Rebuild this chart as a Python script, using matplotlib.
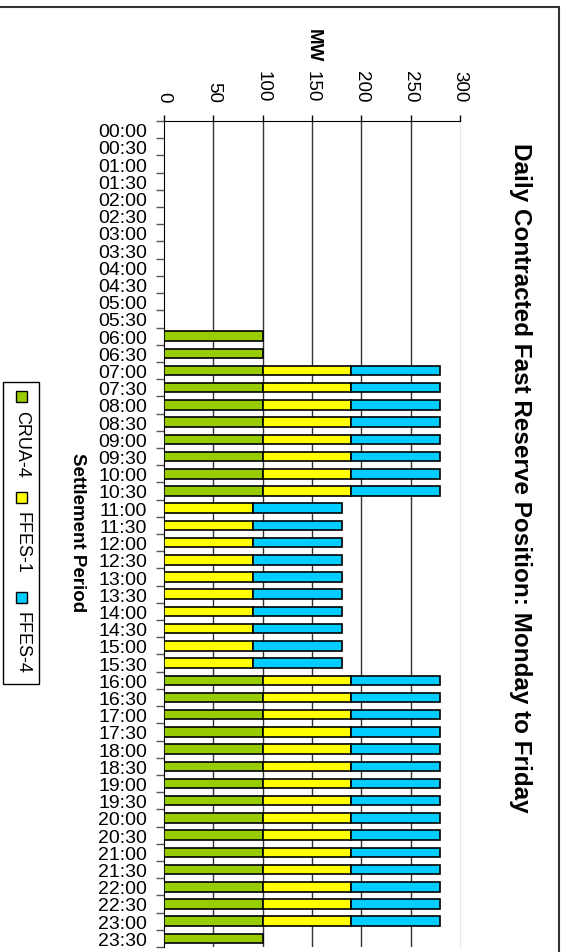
import numpy as np
import matplotlib
matplotlib.use("Agg")
import matplotlib.pyplot as plt
from matplotlib.patches import Rectangle

# ---------------------
# DATA
# ---------------------
PERIODS = [f"{h:02d}:{m:02d}" for h in range(24) for m in (0, 30)]

CRUA_4 = [
    0, 0, 0, 0, 0, 0, 0, 0, 0, 0, 0, 0,
    100, 100, 100, 100, 100, 100, 100, 100, 100, 100, 0, 0,
    0, 0, 0, 0, 0, 0, 0, 0, 100, 100, 100, 100,
    100, 100, 100, 100, 100, 100, 100, 100, 100, 100, 100, 100,
]
FFES_1 = [
    0, 0, 0, 0, 0, 0, 0, 0, 0, 0, 0, 0,
    0, 0, 90, 90, 90, 90, 90, 90, 90, 90, 90, 90,
    90, 90, 90, 90, 90, 90, 90, 90, 90, 90, 90, 90,
    90, 90, 90, 90, 90, 90, 90, 90, 90, 90, 90, 0,
]
FFES_4 = [
    0, 0, 0, 0, 0, 0, 0, 0, 0, 0, 0, 0,
    0, 0, 90, 90, 90, 90, 90, 90, 90, 90, 90, 90,
    90, 90, 90, 90, 90, 90, 90, 90, 90, 90, 90, 90,
    90, 90, 90, 90, 90, 90, 90, 90, 90, 90, 90, 0,
]

SERIES = ["CRUA-4", "FFES-1", "FFES-4"]
VALUES = [CRUA_4, FFES_1, FFES_4]
COLORS = ["#99cc00", "#ffff00", "#00ccff"]
MW_TICKS = [0, 50, 100, 150, 200, 250, 300]

TITLE = "Daily Contracted Fast Reserve Position: Monday to Friday"

plt.rcParams["font.family"] = ["Liberation Sans", "DejaVu Sans"]

W, H = 566, 953


def fx(px):
    return px / W


def fy(py):
    return 1 - py / H


def main():
    fig = plt.figure(figsize=(W / 100, H / 100), dpi=100)
    ax = fig.add_axes([fx(164), fy(948), fx(460) - fx(164), fy(122) - fy(948)])

    y = np.arange(len(PERIODS))
    left = np.zeros(len(PERIODS))
    for name, vals, col in zip(SERIES, VALUES, COLORS):
        v = np.array(vals, dtype=float)
        m = v > 0
        ax.barh(y[m], v[m], left=left[m], height=0.55, color=col,
                edgecolor="black", linewidth=1.2, zorder=3, label=name)
        left += v

    ax.set_xlim(0, 300)
    ax.set_ylim(len(PERIODS) - 0.5, -0.5)

    # value axis along the top
    ax.xaxis.tick_top()
    ax.set_xticks(MW_TICKS)
    ax.set_xticklabels([str(t) for t in MW_TICKS])
    ax.tick_params(axis="x", length=4, width=1, pad=10, labelsize=13.5,
                   labelrotation=-90)
    for v in MW_TICKS[1:-1]:
        ax.axvline(v, color="#333333", linewidth=1, zorder=1)

    # period labels centred, tick marks on the boundaries
    ax.set_yticks(y)
    ax.set_yticklabels(PERIODS)
    ax.set_yticks(np.arange(-0.5, len(PERIODS), 1), minor=True)
    ax.tick_params(axis="y", which="major", length=0, pad=12, labelsize=14)
    ax.tick_params(axis="y", which="minor", length=6, width=1, color="#555555")

    ax.spines["left"].set_color("black")
    ax.spines["top"].set_color("black")
    ax.spines["right"].set_color("#e6e6e6")
    ax.spines["bottom"].set_visible(False)

    fig.text(fx(520), fy(478), TITLE, rotation=-90, ha="center", va="center",
             fontsize=17.5, fontweight="bold")
    fig.text(fx(313), fy(46), "MW", rotation=-90, ha="center", va="center",
             fontsize=13.5, fontweight="bold")
    fig.text(fx(77), fy(533), "Settlement Period", rotation=-90, ha="center",
             va="center", fontsize=13.5, fontweight="bold")

    # legend, laid out by hand to follow the rotated text
    fig.patches.append(Rectangle((fx(3), fy(685)), fx(39) - fx(3), fy(383) - fy(685),
                                 transform=fig.transFigure, facecolor="white",
                                 edgecolor="black", linewidth=1))
    item_tops = [392, 493, 593]
    for name, col, top in zip(SERIES, COLORS, item_tops):
        fig.patches.append(Rectangle((fx(16), fy(top + 11)), fx(11), 11 / H,
                                     transform=fig.transFigure, facecolor=col,
                                     edgecolor="black", linewidth=1))
        fig.text(fx(22), fy(top + 19), name, rotation=-90, ha="center", va="top",
                 fontsize=13)

    # outer frame
    fig.patches.append(Rectangle((-0.01, -0.01), fx(559) + 0.01, fy(8) + 0.01,
                                 transform=fig.transFigure, fill=False,
                                 edgecolor="#333333", linewidth=1.5))

    fig.savefig("out.png", dpi=100)
    plt.close(fig)


if __name__ == "__main__":
    main()
